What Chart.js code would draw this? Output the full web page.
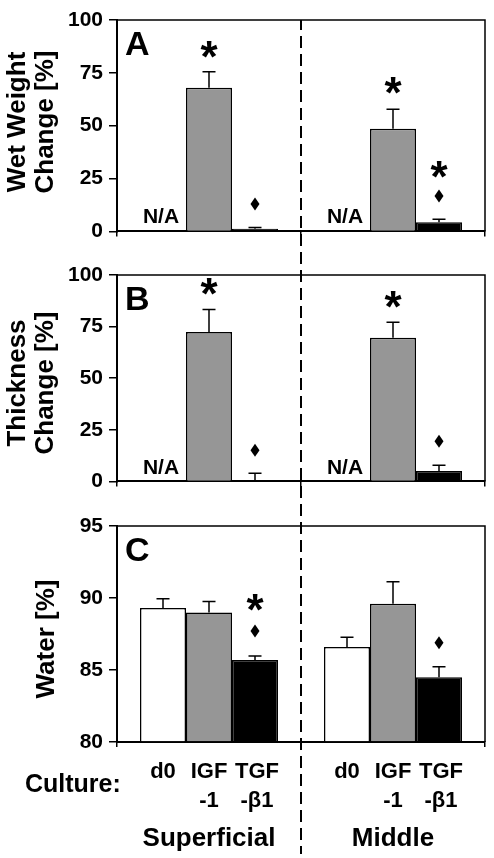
<!DOCTYPE html>
<html><head><meta charset="utf-8">
<script src="https://cdn.jsdelivr.net/npm/chart.js@4"></script>
<style>
html,body{margin:0;padding:0;background:#fff;}
#wrap{position:relative;width:494px;height:858px;overflow:hidden;}
canvas{position:absolute;left:0;}
</style></head><body>
<div id="wrap">
<canvas id="cA" width="494" height="250" style="top:0px"></canvas>
<canvas id="cB" width="494" height="250" style="top:250px"></canvas>
<canvas id="cC" width="494" height="358" style="top:500px"></canvas>
</div>
<script>
// ---------- data ----------
const groups = ['Superficial', 'Middle'];
const cultures = ['d0', 'IGF-1', 'TGF-β1'];
const cultureLines = [['d0'], ['IGF', '-1'], ['TGF', '-β1']];

// Panel A: wet weight change [%]
const wetD0  = [null, null];
const wetIGF = [68, 48.5];
const wetTGF = [1.3, 4.3];
const wetErrD0  = [null, null];
const wetErrIGF = [7.5, 9.3];
const wetErrTGF = [0.5, 1.4];
const wetStarIGF = [86, 69];
const wetStarTGF = [null, 29.3];
const wetDiamondTGF = [13, 16.7];
const wetNA = ['N/A', 'N/A'];

// Panel B: thickness change [%]
const thkD0  = [null, null];
const thkIGF = [72.4, 69.6];
const thkTGF = [0.3, 5.0];
const thkErrD0  = [null, null];
const thkErrIGF = [10.9, 7.5];
const thkErrTGF = [3.7, 2.8];
const thkStarIGF = [94.5, 88];
const thkDiamondTGF = [15.1, 19.5];
const thkNA = ['N/A', 'N/A'];

// Panel C: water [%]
const watD0  = [89.3, 86.6];
const watIGF = [89.0, 89.6];
const watTGF = [85.7, 84.5];
const watErrD0  = [0.65, 0.67];
const watErrIGF = [0.75, 1.53];
const watErrTGF = [0.28, 0.72];
const watStarTGF = [89.7, null];
const watDiamondTGF = [87.7, 86.9];

const ticksA = [0, 25, 50, 75, 100];
const ticksC = [80, 85, 90, 95];

// ---------- drawing ----------
const FONT = '"Liberation Sans", Arial, Helvetica, sans-serif';
const fills = ['#ffffff', '#969696', '#000000'];

function annotPlugin(p) {
  return {
    id: 'annot',
    afterDatasetsDraw(chart) {
      const ctx = chart.ctx, ys = chart.scales.y, ca = chart.chartArea;
      ctx.save();
      // error bars
      ctx.strokeStyle = '#000'; ctx.lineWidth = 1.5;
      p.values.forEach((vals, i) => {
        const meta = chart.getDatasetMeta(i);
        vals.forEach((v, j) => {
          const e = p.errs[i][j];
          if (v == null || e == null) return;
          const x = meta.data[j].x;
          const y0 = ys.getPixelForValue(v), y1 = ys.getPixelForValue(v + e);
          ctx.beginPath();
          ctx.moveTo(x, y0); ctx.lineTo(x, y1);
          ctx.moveTo(x - 6.5, y1); ctx.lineTo(x + 6.5, y1);
          ctx.stroke();
        });
      });
      // stars
      ctx.fillStyle = '#000';
      ctx.font = 'bold 44px ' + FONT;
      ctx.textAlign = 'center'; ctx.textBaseline = 'alphabetic';
      const m = ctx.measureText('*');
      const shift = (m.actualBoundingBoxAscent - m.actualBoundingBoxDescent) / 2;
      p.stars.forEach((arr, i) => {
        if (!arr) return;
        const meta = chart.getDatasetMeta(i);
        arr.forEach((v, j) => {
          if (v == null) return;
          ctx.fillText('*', meta.data[j].x, ys.getPixelForValue(v) + shift);
        });
      });
      // diamonds
      p.diamonds.forEach((arr, i) => {
        if (!arr) return;
        const meta = chart.getDatasetMeta(i);
        arr.forEach((v, j) => {
          if (v == null) return;
          const x = meta.data[j].x, y = ys.getPixelForValue(v);
          ctx.beginPath();
          ctx.moveTo(x, y - 6.5); ctx.lineTo(x + 4.5, y); ctx.lineTo(x, y + 6.5); ctx.lineTo(x - 4.5, y);
          ctx.closePath(); ctx.fill();
        });
      });
      // N/A labels
      if (p.na) {
        ctx.font = 'bold 21px ' + FONT;
        const meta = chart.getDatasetMeta(0);
        p.na.forEach((t, j) => {
          if (!t) return;
          ctx.fillText(t, meta.data[j].x - 2, ys.getPixelForValue(3.8));
        });
      }
      // frame top/right
      ctx.lineWidth = 1.5;
      ctx.beginPath();
      ctx.moveTo(ca.left, ca.top); ctx.lineTo(ca.right, ca.top); ctx.lineTo(ca.right, ca.bottom);
      ctx.stroke();
      ctx.restore();
    },
    afterDraw(chart) {
      const ctx = chart.ctx, ca = chart.chartArea, xs = chart.scales.x;
      ctx.save();
      ctx.fillStyle = '#000';
      // panel letter
      ctx.font = 'bold 34px ' + FONT;
      ctx.textAlign = 'left'; ctx.textBaseline = 'alphabetic';
      ctx.fillText(p.letter, ca.left + 8, ca.top + 35);
      // y title
      ctx.font = 'bold 26px ' + FONT;
      ctx.textAlign = 'center'; ctx.textBaseline = 'middle';
      p.title.forEach((line, k) => {
        ctx.save();
        ctx.translate(p.titleX + k * 28, p.titleY);
        ctx.rotate(-Math.PI / 2);
        ctx.fillText(line, 0, 0);
        ctx.restore();
      });
      // bottom labels
      if (p.bottomLabels) {
        ctx.textBaseline = 'alphabetic';
        ctx.font = 'bold 22px ' + FONT;
        cultureLines.forEach((lines, i) => {
          const meta = chart.getDatasetMeta(i);
          groups.forEach((g, j) => {
            lines.forEach((ln, k) => {
              ctx.fillText(ln, meta.data[j].x + (i === 2 ? 2 : 0), ca.bottom + 36 + k * 29);
            });
          });
        });
        ctx.font = 'bold 26px ' + FONT;
        groups.forEach((g, j) => {
          ctx.fillText(g, xs.getPixelForValue(j), ca.bottom + 104);
        });
        ctx.font = 'bold 25px ' + FONT;
        ctx.textAlign = 'left';
        ctx.fillText('Culture:', 25, ca.bottom + 50);
      }
      // dashed divider
      const xd = (xs.getPixelForValue(0) + xs.getPixelForValue(1)) / 2;
      ctx.strokeStyle = '#000'; ctx.lineWidth = 2;
      ctx.setLineDash([12, 6]);
      const y0 = p.dashFromTop ? ca.top : 0;
      ctx.lineDashOffset = (p.pageTop + y0) % 18;
      ctx.beginPath();
      ctx.moveTo(xd, y0); ctx.lineTo(xd, p.dashEnd != null ? p.dashEnd : chart.height);
      ctx.stroke();
      ctx.restore();
    }
  };
}

function makeChart(id, cfg) {
  const ds = cfg.values.map((vals, i) => ({
    label: cultures[i],
    data: vals,
    backgroundColor: fills[i],
    borderColor: '#000',
    borderWidth: 1.5,
    base: cfg.min,
    categoryPercentage: 0.75,
    barPercentage: 1.0
  }));
  return new Chart(document.getElementById(id), {
    type: 'bar',
    data: { labels: groups, datasets: ds },
    options: {
      responsive: false,
      devicePixelRatio: 1,
      animation: false,
      events: [],
      layout: { padding: { top: cfg.padTop, right: 9, left: 0, bottom: 0 } },
      plugins: { legend: { display: false }, tooltip: { enabled: false } },
      scales: {
        x: {
          type: 'category',
          offset: true,
          grid: { offset: true, drawOnChartArea: false, drawTicks: true, tickLength: 5, color: '#000', lineWidth: 1.5 },
          border: { display: true, color: '#000', width: 2 },
          ticks: { display: false },
          afterFit: s => { s.height = cfg.xHeight; }
        },
        y: {
          min: cfg.min, max: cfg.max,
          afterBuildTicks: s => { s.ticks = cfg.ticks.map(v => ({ value: v })); },
          ticks: { color: '#000', padding: 6, font: { family: FONT, size: 21, weight: 'bold' } },
          grid: { drawOnChartArea: false, drawTicks: true, tickLength: 8, color: '#000', lineWidth: 1.5 },
          border: { display: true, color: '#000', width: 2 },
          afterFit: s => { s.width = 117; }
        }
      }
    },
    plugins: [annotPlugin(cfg)]
  });
}

makeChart('cA', {
  values: [wetD0, wetIGF, wetTGF],
  errs: [wetErrD0, wetErrIGF, wetErrTGF],
  stars: [null, wetStarIGF, wetStarTGF],
  diamonds: [null, null, wetDiamondTGF],
  na: wetNA,
  min: 0, max: 100, ticks: ticksA,
  padTop: 20, xHeight: 15,
  letter: 'A', title: ['Wet Weight', 'Change [%]'], titleX: 18, titleY: 122,
  pageTop: 0, dashFromTop: true
});
makeChart('cB', {
  values: [thkD0, thkIGF, thkTGF],
  errs: [thkErrD0, thkErrIGF, thkErrTGF],
  stars: [null, thkStarIGF, null],
  diamonds: [null, null, thkDiamondTGF],
  na: thkNA,
  min: 0, max: 100, ticks: ticksA,
  padTop: 25, xHeight: 11,
  letter: 'B', title: ['Thickness', 'Change [%]'], titleX: 18, titleY: 133,
  pageTop: 250, dashFromTop: false
});
makeChart('cC', {
  values: [watD0, watIGF, watTGF],
  errs: [watErrD0, watErrIGF, watErrTGF],
  stars: [null, null, watStarTGF],
  diamonds: [null, null, watDiamondTGF],
  na: null,
  min: 80, max: 95, ticks: ticksC,
  padTop: 26, xHeight: 116,
  letter: 'C', title: ['Water [%]'], titleX: 47, titleY: 139,
  pageTop: 500, dashFromTop: false, dashEnd: 354, bottomLabels: true
});
</script>
</body></html>
